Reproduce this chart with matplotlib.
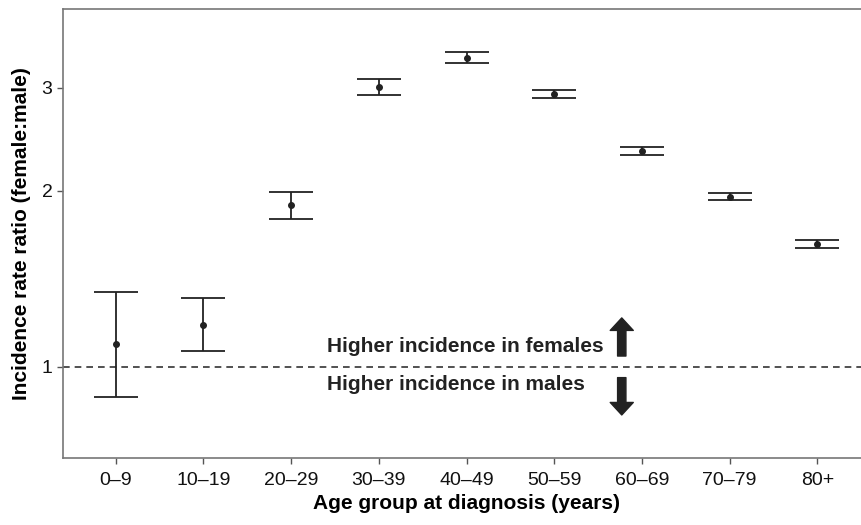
import matplotlib
matplotlib.use("Agg")
import matplotlib.pyplot as plt
import numpy as np

plt.rcParams['font.family'] = ['Liberation Sans', 'DejaVu Sans']

# data (incidence rate ratio, female:male)
age_groups = ['0–9', '10–19', '20–29', '30–39', '40–49', '50–59', '60–69', '70–79', '80+']
irr = [1.094, 1.181, 1.890, 3.01, 3.375, 2.929, 2.341, 1.953, 1.623]
irr_low = [0.889, 1.064, 1.789, 2.921, 3.31, 2.884, 2.307, 1.928, 1.598]
irr_high = [1.342, 1.314, 1.989, 3.104, 3.452, 2.976, 2.375, 1.984, 1.651]
y_ticks = [1, 2, 3]

fig = plt.figure(figsize=(8.62, 5.25), dpi=100)
ax = fig.add_axes([63 / 862, 1 - 458 / 525, 807 / 862, 449 / 525])

x = np.arange(len(age_groups))
yerr = [np.array(irr) - np.array(irr_low), np.array(irr_high) - np.array(irr)]
ax.errorbar(x, irr, yerr=yerr, fmt='o', color='#222222', ms=4, capsize=15.5,
            elinewidth=1.3, capthick=1.3, zorder=3)

ax.axhline(1, color='#333333', lw=1.2, ls=(0, (4, 3)), zorder=1)

ax.set_yscale('log')
ax.set_ylim(0.699, 4.09)
ax.set_xlim(-0.6, len(age_groups) - 0.4)
ax.set_yticks(y_ticks)
ax.set_yticklabels([str(t) for t in y_ticks])
ax.yaxis.set_minor_locator(matplotlib.ticker.NullLocator())
ax.set_xticks(x)
ax.set_xticklabels(age_groups)
ax.tick_params(axis='both', labelsize=14, colors='#555555', labelcolor='#111111',
               length=4, width=1)
ax.tick_params(axis='x', pad=6)

for s in ax.spines.values():
    s.set_color('#777777')
    s.set_linewidth(1.2)

ax.set_xlabel('Age group at diagnosis (years)', fontsize=15, fontweight='bold', labelpad=4)
ax.set_ylabel('Incidence rate ratio (female:male)', fontsize=15, fontweight='bold', labelpad=8)

# annotations
ax.text(2.41, 1.083, 'Higher incidence in females', fontsize=15, fontweight='bold',
        ha='left', va='center', color='#222222')
ax.text(2.41, 0.932, 'Higher incidence in males', fontsize=15, fontweight='bold',
        ha='left', va='center', color='#222222')
arrow = dict(arrowstyle='simple,head_width=0.83,head_length=0.45,tail_width=0.3',
             color='#222222', mutation_scale=20, shrinkA=0, shrinkB=0)
ax.annotate('', xy=(5.77, 1.213), xytext=(5.77, 1.044), arrowprops=arrow)
ax.annotate('', xy=(5.77, 0.828), xytext=(5.77, 0.959), arrowprops=arrow)

fig.savefig('out.png', dpi=100)
